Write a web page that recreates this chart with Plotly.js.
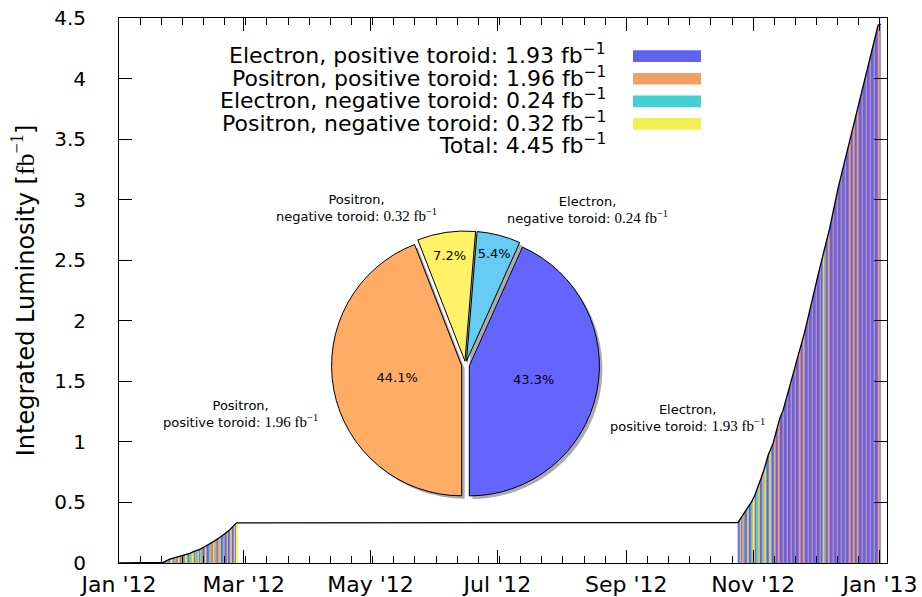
<!DOCTYPE html>
<html>
<head>
<meta charset="utf-8">
<script src="https://cdn.plot.ly/plotly-3.0.1.min.js"></script>
<style>
  html, body { margin: 0; padding: 0; background: #ffffff; }
  #chart { width: 922px; height: 597px; }
</style>
</head>
<body>
<div id="chart"></div>
<script>
// ---------------------------------------------------------------
// Integrated luminosity collected during the 2012 running
// ---------------------------------------------------------------

// Cumulative integrated luminosity [fb^-1]
const lumiDates = [
  '2012-01-01 00:00', '2012-01-22 04:00', '2012-01-25 10:00', '2012-01-27 20:00',
  '2012-01-30 05:00', '2012-02-01 14:00', '2012-02-04 00:00', '2012-02-06 10:00',
  '2012-02-08 19:00', '2012-02-11 05:00', '2012-02-13 14:00', '2012-02-16 00:00',
  '2012-02-18 10:00', '2012-02-20 19:00', '2012-02-23 05:00', '2012-02-25 17:00',
  '2012-02-26 14:00', '2012-10-24 16:00', '2012-10-26 10:00', '2012-10-28 19:00',
  '2012-10-31 05:00', '2012-11-01 19:00', '2012-11-03 10:00', '2012-11-05 00:00',
  '2012-11-06 05:00', '2012-11-08 05:00', '2012-11-10 14:00', '2012-11-13 19:00',
  '2012-11-15 10:00', '2012-11-20 05:00', '2012-11-25 19:00', '2012-12-02 05:00',
  '2012-12-07 19:00', '2012-12-11 19:00', '2012-12-16 14:00', '2012-12-22 07:00',
  '2012-12-27 02:00', '2012-12-30 07:00', '2012-12-31 02:00', '2013-01-01 08:00'
];
const lumiValues = [
  0.000, 0.005, 0.032, 0.043,
  0.059, 0.068, 0.079, 0.098,
  0.112, 0.134, 0.162, 0.183,
  0.211, 0.239, 0.272, 0.319,
  0.332, 0.334, 0.381, 0.450,
  0.505, 0.560, 0.630, 0.710,
  0.770, 0.890, 0.987, 1.194,
  1.262, 1.551, 1.909, 2.377,
  2.762, 3.092, 3.423, 3.808,
  4.138, 4.385, 4.440, 4.450
];

// Beam / toroid configuration, one letter per 8-hour shift
//   E: electron, positive toroid    P: positron, positive toroid
//   e: electron, negative toroid    p: positron, negative toroid
const springStart = '2012-01-22 00:00';
const springShifts =
  'ppEEPP eeEEPP ppEEee PPEEpp EEPPee EEppPP EEeePP ppEEPP eeppEE ' +
  'PPeeEE ppPPEE eePPEE ppPPee EEPPpp EEeePP EEppEE PPppEE ppEEpp';
const fallStart = '2012-10-24 16:00';
const fallShifts =
  'EEppEE PPeeEE PPppEE eePPpp EEeePP ppEEee PPppee EEPPpe ' +
  'EEEEPP EEEEPP EEEEPP EEEEPP EEEEPP EEEEPP EEEEPP EEEEPP EEEEPP EEEEPP ' +
  'EEEEPP EEEEPP EEEpeP EEEEPP EEEEPP EEEEPP EEEEPP EEEEPP EEEEPP EEEEPP ' +
  'EEEEPP EEEEPP EEEEPP EEEEPP EEEEPP EEEEPP EE';

// Per-configuration summary
const configKeys    = ['E', 'P', 'e', 'p'];
const configBeam    = ['Electron', 'Positron', 'Electron', 'Positron'];
const configToroid  = ['positive', 'positive', 'negative', 'negative'];
const configLumi    = [1.93, 1.96, 0.24, 0.32];      // fb^-1
const configPercent = [43.3, 44.1, 5.4, 7.2];        // share of total
const totalLumi     = 4.45;                          // fb^-1

// Date axis ticks
const tickDates  = ['2012-01-01', '2012-03-01', '2012-05-01', '2012-07-01',
                    '2012-09-01', '2012-11-01', '2013-01-01'];
const tickLabels = ["Jan '12", "Mar '12", "May '12", "Jul '12",
                    "Sep '12", "Nov '12", "Jan '13"];

// ---------------------------------------------------------------
// Styling
// ---------------------------------------------------------------
const stripeColors = ['#6262F2', '#F0A062', '#42D0D0', '#F0F052'];   // E, P, e, p
const pieColors    = ['#6464FF', '#FFAD64', '#66CCF4', '#FFF266'];
const SANS  = 'DejaVu Sans';
const SERIF = 'Liberation Serif';
const Y_TOP = 4.5;
const DAY_MS = 86400000;
const SHIFT_MS = DAY_MS / 3;

const W = 922, H = 597;
const M = { l: 119, r: 35, t: 18, b: 34 };
const plotW = W - M.l - M.r, plotH = H - M.t - M.b;
const paperX = px => (px - M.l) / plotW;
const paperY = py => 1 - (py - M.t) / plotH;

function toMs(s) {
  const [d, t] = s.split(' ');
  const [Y, Mo, D] = d.split('-').map(Number);
  const [h, mi] = (t || '00:00').split(':').map(Number);
  return Date.UTC(Y, Mo - 1, D, h, mi);
}

// One heatmap cell per shift; the shutdown between periods is left empty
const cellEdges = [];
const cellCodes = [];
function addPeriod(startStr, shiftStr) {
  const seq = shiftStr.replace(/\s+/g, '');
  const t0 = toMs(startStr);
  if (cellEdges.length) { cellCodes.push(null); }
  cellEdges.push(t0);
  for (let i = 0; i < seq.length; i++) {
    cellCodes.push(configKeys.indexOf(seq[i]));
    cellEdges.push(t0 + (i + 1) * SHIFT_MS);
  }
}
addPeriod(springStart, springShifts);
addPeriod(fallStart, fallShifts);

const stepScale = [];
stripeColors.forEach((c, i) => {
  stepScale.push([Math.max(0, (i - 0.5) / 3), c]);
  stepScale.push([Math.min(1, (i + 0.5) / 3), c]);
});

// ---------------------------------------------------------------
// Traces
// ---------------------------------------------------------------
const stripeTrace = {
  type: 'heatmap',
  x: cellEdges, y: [0, Y_TOP], z: [cellCodes],
  zmin: 0, zmax: 3, colorscale: stepScale, showscale: false,
  zsmooth: false, hoverinfo: 'skip'
};

// White cover above the cumulative curve, so stripes only fill below it
const coverTrace = {
  type: 'scatter', mode: 'lines',
  x: lumiDates.concat([lumiDates[lumiDates.length - 1], lumiDates[0]]),
  y: lumiValues.concat([Y_TOP, Y_TOP]),
  fill: 'toself', fillcolor: '#ffffff',
  line: { width: 0, color: 'rgba(0,0,0,0)' },
  hoverinfo: 'skip', showlegend: false
};

const curveTrace = {
  type: 'scatter', mode: 'lines',
  x: lumiDates, y: lumiValues,
  line: { color: '#000000', width: 1.3 },
  hoverinfo: 'x+y', showlegend: false
};

// Pie, laid out counter-clockwise around 6 o'clock
const pieOrder = [1, 0, 2, 3];
const pieCenter = { x: 465.5, y: 365 }, pieHalf = 134;
const PULL = 0.03;
const pieDomain = (dx, dy) => ({
  x: [paperX(pieCenter.x - pieHalf + dx), paperX(pieCenter.x + pieHalf + dx)],
  y: [paperY(pieCenter.y + pieHalf + dy), paperY(pieCenter.y - pieHalf + dy)]
});

const pieShadow = {
  type: 'pie', sort: false, direction: 'counterclockwise', rotation: 180,
  values: pieOrder.map(i => configPercent[i]),
  labels: pieOrder.map(i => configKeys[i] + ' shadow'),
  marker: { colors: pieOrder.map(() => '#ababab'), line: { width: 0 } },
  pull: pieOrder.map(() => PULL),
  textinfo: 'none', hoverinfo: 'skip',
  domain: pieDomain(3, 3), showlegend: false
};

const pieMain = {
  type: 'pie', sort: false, direction: 'counterclockwise', rotation: 180,
  values: pieOrder.map(i => configPercent[i]),
  labels: pieOrder.map(i => configBeam[i] + ', ' + configToroid[i] + ' toroid'),
  marker: { colors: pieOrder.map(i => pieColors[i]),
            line: { color: '#000000', width: 1 } },
  pull: pieOrder.map(() => PULL),
  textinfo: 'percent', textposition: 'inside', insidetextorientation: 'horizontal',
  textfont: { family: SANS, size: 13, color: '#000000' },
  domain: pieDomain(0, 0), showlegend: false
};

// ---------------------------------------------------------------
// Annotations: slice captions and summary box
// ---------------------------------------------------------------
const captionPos = [[687, 418], [240, 414], [587, 210], [356, 208]];   // E, P, e, p
const annotations = configKeys.map((k, i) => ({
  xref: 'paper', yref: 'paper',
  x: paperX(captionPos[i][0]), y: paperY(captionPos[i][1]),
  xanchor: 'center', yanchor: 'middle', align: 'center', showarrow: false,
  font: { family: SANS, size: 13, color: '#000' },
  text: configBeam[i] + ',<br>' + configToroid[i] + ' toroid: ' +
        '<span style="font-family:' + SERIF + ';font-size:15px">' + configLumi[i].toFixed(2) +
        ' fb<sup>\u22121</sup></span>'
}));

const fbSans = 'fb<sup>\u22121</sup>';
const boxRight = 608, boxTop = 54, rowStep = 22.6;
const boxRows = configKeys.map((k, i) =>
  configBeam[i] + ', ' + configToroid[i] + ' toroid: ' + configLumi[i].toFixed(2) + ' ' + fbSans);
boxRows.push('Total: ' + totalLumi.toFixed(2) + ' ' + fbSans);
boxRows.forEach((t, i) => annotations.push({
  xref: 'paper', yref: 'paper',
  x: paperX(boxRight), y: paperY(boxTop + i * rowStep),
  xanchor: 'right', yanchor: 'middle', align: 'right', showarrow: false,
  font: { family: SANS, size: 22, color: '#000' }, text: t
}));

const swatchX = [633, 701], swatchTop = 50.3, swatchH = 11.7;
const shapes = configKeys.map((k, i) => ({
  type: 'rect', xref: 'paper', yref: 'paper', layer: 'above',
  x0: paperX(swatchX[0]), x1: paperX(swatchX[1]),
  y0: paperY(swatchTop + i * rowStep + swatchH), y1: paperY(swatchTop + i * rowStep),
  fillcolor: stripeColors[i], line: { width: 0 }
}));

// ---------------------------------------------------------------
// Layout
// ---------------------------------------------------------------
const layout = {
  width: W, height: H,
  margin: { l: M.l, r: M.r, t: M.t, b: M.b, pad: 0 },
  paper_bgcolor: '#ffffff', plot_bgcolor: '#ffffff',
  showlegend: false,
  font: { family: SANS, color: '#000000' },
  xaxis: {
    type: 'date',
    range: ['2012-01-01 00:00', '2013-01-04 09:00'],
    tickmode: 'array', tickvals: tickDates, ticktext: tickLabels,
    ticks: 'inside', ticklen: 13, tickwidth: 1, tickcolor: '#000',
    minor: { ticks: 'inside', ticklen: 7, tickwidth: 1, tickcolor: '#000',
             tick0: '2012-01-01', dtick: (61 / 6) * DAY_MS, showgrid: false },
    showline: true, linecolor: '#000', linewidth: 1, mirror: 'ticks',
    showgrid: false, zeroline: false,
    tickfont: { family: SANS, size: 22 }, ticklabelstandoff: 2
  },
  yaxis: {
    range: [0, Y_TOP], tick0: 0, dtick: 0.5,
    ticks: 'inside', ticklen: 13, tickwidth: 1, tickcolor: '#000',
    showline: true, linecolor: '#000', linewidth: 1, mirror: 'ticks',
    showgrid: false, zeroline: false,
    tickfont: { family: SANS, size: 20 }, ticklabelstandoff: 28,
    title: { text: 'Integrated Luminosity [<span style="font-family:' + SERIF +
                   ';font-size:26px">fb<sup>\u22121</sup></span>]',
             font: { family: SANS, size: 24 }, standoff: 12 }
  },
  annotations: annotations,
  shapes: shapes
};

Plotly.newPlot('chart', [stripeTrace, coverTrace, curveTrace, pieShadow, pieMain], layout,
               { displayModeBar: false, staticPlot: true });
</script>
</body>
</html>
